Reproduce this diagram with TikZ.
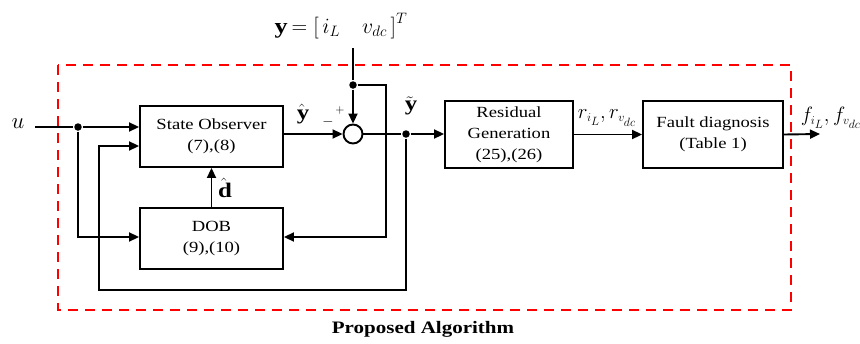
\documentclass[tikz,border=0pt]{standalone}
\usepackage{fontspec}
\setmainfont{Liberation Serif}[FakeStretch=1.2]
\usetikzlibrary{arrows.meta,calc}
\begin{document}
\begin{tikzpicture}[x=1pt,y=-1pt,
  line width=1.9pt,
  blk/.style={draw,line width=1.9pt,align=center,inner sep=0pt,font=\fontsize{15.5}{21}\selectfont},
  arr/.style={-{Triangle[length=10pt,width=9pt]}},
  dot/.style={circle,fill,inner sep=0pt,minimum size=7.5pt},
  mlab/.style={inner sep=0pt,font=\fontsize{20.74}{25}\selectfont}]
\useasboundingbox (0,0) rectangle (860,343);
% frame
\draw[red,line width=2pt,dash pattern=on 10pt off 7pt] (58,65) rectangle (791,310);
% blocks
\node[blk,minimum width=143pt,minimum height=61pt] (so) at (211.5,136.5) {State Observer\\(7),(8)};
\node[blk,minimum width=143pt,minimum height=61pt] (dob) at (211.5,238.5) {DOB\\(9),(10)};
\node[blk,minimum width=128pt,minimum height=67pt] (res) at (509,134.5) {Residual\\Generation\\(25),(26)};
\node[blk,minimum width=140pt,minimum height=67pt] (fd) at (713,134.5) {Fault diagnosis\\(Table 1)};
\node[draw,circle,line width=1.9pt,minimum size=19pt,inner sep=0pt] (sum) at (353,134) {};
% coordinates
\coordinate (us) at (35,127);
\node[dot] (j1) at (78,127) {};
\node[dot] (j2) at (406,134) {};
\node[dot] (j3) at (353,85) {};
\coordinate (ytop) at (353,48);
\coordinate (out) at (820,134);
\coordinate (c1) at (78,237);
\coordinate (c2) at (406,290);
\coordinate (c3) at (99,290);
\coordinate (c4) at (99,146);
\coordinate (c5) at (386,85);
\coordinate (c6) at (386,237);
% connectors
\draw[arr] (us) -- (j1) -- (so.west |- j1);
\draw[arr] (j1) -- (c1) -- (dob.west |- c1);
\draw[arr] (so.east |- sum) -- (sum.west);
\draw[arr] (sum.east) -- (j2) -- (res.west |- j2);
\draw[arr] (j2) -- (c2) -- (c3) -- (c4) -- (so.west |- c4);
\draw[arr] (ytop) -- (j3) -- (sum.north);
\draw[arr] (j3) -- (c5) -- (c6) -- (dob.east |- c6);
\draw[arr] (dob.north) -- (so.south);
\draw[arr] (res.east) -- (fd.west |- res.east);
\draw[arr] (fd.east) -- (out);
% labels
\node[mlab] (lu) at (18,124) {\scalebox{1.1}{$u$}};
\node[mlab] (lyh) at (302,114) {$\hat{\mathbf{y}}$};
\node[mlab,font=\fontsize{14}{16}\selectfont] (lm) at (328,122) {$-$};
\node[mlab,font=\fontsize{12}{14}\selectfont] (lp) at (340,110) {$+$};
\node[mlab] (lyt) at (410,106) {$\tilde{\mathbf{y}}$};
\node[mlab] (ldh) at (224,188) {$\hat{\mathbf{d}}$};
\node[mlab] (lr) at (607,118) {$r_{\scriptscriptstyle i_L},r_{\scriptscriptstyle v_{dc}}$};
\node[mlab,anchor=west] (lf) at (800,118) {$f_{\scriptscriptstyle i_L},f_{\scriptscriptstyle v_{dc}}$};
\node[mlab] (ly) at (341,26) {\scalebox{1.05}{$\mathbf{y}=\bigl[\,i_L\quad v_{dc}\,\bigr]^T$}};
\node[inner sep=0pt,font=\fontsize{17.5}{20}\selectfont\bfseries] (lpa) at (423,329) {Proposed Algorithm};
\end{tikzpicture}
\end{document}
